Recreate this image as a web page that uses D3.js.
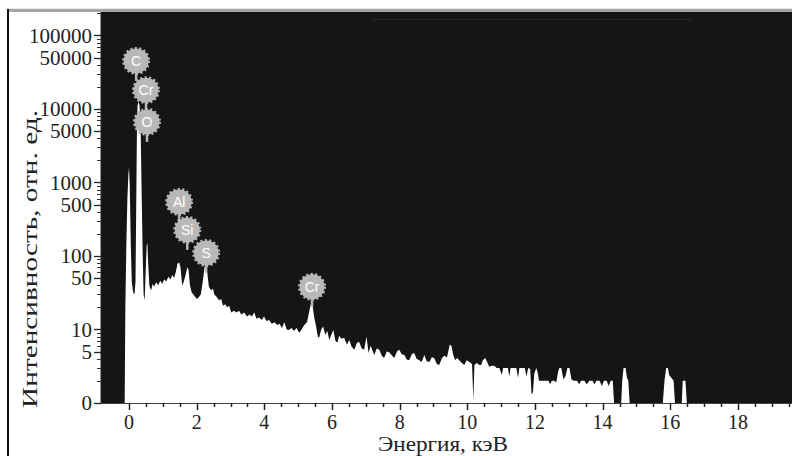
<!DOCTYPE html>
<html><head><meta charset="utf-8">
<script src="https://cdn.jsdelivr.net/npm/d3@7/dist/d3.min.js"></script>
<style>body{margin:0;background:#fff}svg{display:block}</style>
</head><body>
<svg id="c" width="792" height="456"></svg>
<script>
// ---- data ----
const energy = [-0.83,-0.13,-0.11,-0.08,-0.05,-0.02,0.00,0.02,0.05,0.08,0.12,0.16,0.19,0.21,0.23,0.25,0.28,0.31,0.34,0.37,0.40,0.43,0.46,0.49,0.52,0.54,0.57,0.60,0.65,0.70,0.74,0.80,0.86,0.92,0.98,1.04,1.10,1.16,1.22,1.28,1.33,1.38,1.43,1.48,1.52,1.57,1.62,1.67,1.72,1.76,1.80,1.85,1.90,1.95,2.00,2.05,2.12,2.18,2.23,2.27,2.31,2.36,2.43,2.48,2.52,2.58,2.66,2.72,2.78,2.84,2.90,2.96,3.02,3.10,3.18,3.25,3.32,3.40,3.49,3.56,3.63,3.70,3.77,3.85,3.92,3.99,4.06,4.14,4.22,4.30,4.38,4.45,4.52,4.59,4.66,4.73,4.80,4.88,4.95,5.03,5.10,5.18,5.26,5.32,5.38,5.42,5.47,5.53,5.58,5.62,5.68,5.74,5.80,5.86,5.92,5.98,6.04,6.10,6.16,6.21,6.28,6.36,6.44,6.51,6.58,6.66,6.73,6.80,6.88,6.95,7.02,7.08,7.14,7.25,7.32,7.40,7.47,7.54,7.62,7.69,7.76,7.84,7.92,7.99,8.06,8.14,8.21,8.28,8.36,8.43,8.50,8.58,8.65,8.73,8.80,8.88,8.95,9.02,9.10,9.17,9.25,9.32,9.40,9.48,9.53,9.58,9.64,9.70,9.76,9.84,9.91,9.98,10.06,10.14,10.18,10.21,10.28,10.36,10.41,10.46,10.53,10.60,10.65,10.72,10.80,10.87,10.95,11.02,11.06,11.20,11.24,11.28,11.45,11.50,11.54,11.70,11.75,11.80,11.86,11.90,11.94,11.98,12.04,12.08,12.12,12.20,12.30,12.40,12.45,12.50,12.57,12.63,12.68,12.72,12.78,12.84,12.90,12.96,13.02,13.08,13.14,13.24,13.31,13.36,13.46,13.53,13.61,13.70,13.76,13.82,13.91,13.98,14.04,14.12,14.18,14.24,14.30,14.34,14.55,14.58,14.62,14.68,14.72,14.76,14.80,15.78,15.83,15.88,15.93,15.97,16.03,16.10,16.14,16.34,16.37,16.45,16.49,19.6];
const counts = [1,1,20,150,600,1300,1600,900,150,45,32,30,45,400,4000,11000,12500,11000,6000,800,120,30,25,60,140,150,70,40,34,42,38,44,40,46,42,48,45,52,48,55,50,60,78,82,70,40,45,55,70,65,40,32,30,28,26,27,30,45,70,76,60,38,34,36,30,28,25,26,21,22,20,21,17,18,17,18,16,17,15,16,15,17,14,14.5,13.5,15,13,13.5,12,12.5,11.5,12,10.5,12.5,10,9.8,10.5,9.5,10.5,9,10,11.5,12.5,17,23,22,15,11,8,7.7,10,11,8.5,9.5,7.2,8.5,9.8,7,6.6,8.2,7.5,7.7,6.2,7.2,5.8,5.3,6.5,6.8,5.5,5.3,8,4.8,6,4.5,5.5,5.3,4.4,4.1,5,4.9,4.5,4.1,5,5.3,4.6,4.5,3.9,3.8,4.6,4.8,4,3.8,3.6,4.5,3.7,3.6,4.2,4.1,3.4,3.3,4.1,4.4,4.2,6.2,6,4.6,3.8,4.1,3.8,3.5,3.3,3.8,3.6,3.4,1.1,3.3,3.5,3.3,3.3,3.8,4.1,3.5,3.1,3.2,3.2,3.0,3.0,2.4,3.0,3.0,2.3,3.0,3.0,2.2,3.0,3.0,2.3,3.0,2.9,1.3,1.4,2.5,3.0,2.6,2.0,2.0,2.0,2.0,1.8,2.0,2.0,1.9,2.6,3.0,3.0,2.1,2.3,3.0,3.0,2.1,2.0,2.0,1.8,2.0,2.0,1.8,2.0,2.0,1.8,2.0,2.0,1.7,2.0,2.0,1.7,2.0,2.0,1.0,1.0,2.0,3.0,3.0,2.2,2.0,1.0,1.0,2.0,3.0,3.0,2.4,2.2,2.0,1.0,1.0,2.0,2.0,1.0,1];

const yTickValues = [1,5,10,50,100,500,1000,5000,10000,50000,100000];
const yTickLabels = ["0","5","10","50","100","500","1000","5000","10000","50000","100000"];
const xTickValues = [0,2,4,6,8,10,12,14,16,18];

const peakNames  = ["C","Cr","O","Al","Si","S","Cr"];
const peakEnergy = [0.21,0.50,0.53,1.48,1.72,2.28,5.41];
const peakLevel  = [45000,18000,6650,543,226,110,38];

const xTitle = "Энергия, кэВ";
const yTitle = "Интенсивность, отн. ед.";

// ---- layout ----
const svg = d3.select("#c");
const L = 101, R = 792, T = 12, B = 403;
const x = d3.scaleLinear().domain([-0.83, 19.6]).range([L, R]);
const y = d3.scaleLog().domain([1, 208000]).range([B, T]).clamp(true);
const SERIF = '"Liberation Serif", Tinos, Times, "Times New Roman", "DejaVu Serif", serif';
const SANS = '"Liberation Sans", Arial, sans-serif';

// frame
svg.append("line").attr("x1",7).attr("x2",792).attr("y1",9.5).attr("y2",9.5).attr("stroke","#a8a8a8").attr("stroke-width",1.5);
svg.append("line").attr("x1",7).attr("x2",792).attr("y1",11).attr("y2",11).attr("stroke","#555").attr("stroke-width",1);
svg.append("line").attr("x1",8).attr("x2",8).attr("y1",9).attr("y2",456).attr("stroke","#111").attr("stroke-width",2);

// plot background
svg.append("rect").attr("x",L).attr("y",T).attr("width",R-L).attr("height",B-T).attr("fill","#151515");
svg.append("line").attr("x1",372).attr("x2",693).attr("y1",19.5).attr("y2",19.5).attr("stroke","#262626").attr("stroke-width",1);

svg.append("clipPath").attr("id","clp").append("rect").attr("x",L).attr("y",T).attr("width",R-L).attr("height",B-T);

const data = energy.map((e,i)=>({e, c: counts[i]}));
const area = d3.area().x(d=>x(d.e)).y0(y(1)).y1(d=>y(d.c)).curve(d3.curveLinear);
svg.append("path").datum(data).attr("d",area).attr("fill","#ffffff").attr("clip-path","url(#clp)");

// y axis
const minor = [];
for (let k=0;k<=5;k++) for (let m=2;m<=9;m++){ const v=m*Math.pow(10,k); if (v<=200000 && !yTickValues.includes(v)) minor.push(v); }
const gy = svg.append("g").attr("transform",`translate(${L},0)`);
gy.append("line").attr("x1",0).attr("x2",0).attr("y1",T).attr("y2",B).attr("stroke","#222");
gy.selectAll(".mn").data(minor).enter().append("line").attr("x1",-4).attr("x2",0).attr("y1",d=>Math.round(y(d))+0.5).attr("y2",d=>Math.round(y(d))+0.5).attr("stroke","#333");
gy.selectAll(".mj").data(yTickValues).enter().append("line").attr("x1",-7).attr("x2",0).attr("y1",d=>Math.round(y(d))+0.5).attr("y2",d=>Math.round(y(d))+0.5).attr("stroke","#222").attr("stroke-width",1.3);
gy.selectAll(".lb").data(yTickValues).enter().append("text").style("font-family",SERIF).attr("x",-9).attr("y",d=>y(d)).attr("dy","0.34em")
  .attr("text-anchor","end").style("font-size","21px").attr("fill","#222")
  .text((d,i)=>yTickLabels[i]);

// x axis
const gx = svg.append("g").attr("transform",`translate(0,${B})`);
gx.append("line").attr("x1",L).attr("x2",R).attr("y1",0.5).attr("y2",0.5).attr("stroke","#444").attr("stroke-width",1.2);
const xMinor = d3.range(0,19.51,0.5).filter(v=>!xTickValues.includes(v));
gx.selectAll(".mn").data(xMinor).enter().append("line").attr("x1",d=>Math.round(x(d))+0.5).attr("x2",d=>Math.round(x(d))+0.5).attr("y1",0).attr("y2",4).attr("stroke","#222").attr("stroke-width",1.5);
gx.selectAll(".mj").data(xTickValues).enter().append("line").attr("x1",d=>Math.round(x(d))+0.5).attr("x2",d=>Math.round(x(d))+0.5).attr("y1",0).attr("y2",7).attr("stroke","#222").attr("stroke-width",1.5);
gx.selectAll(".lb").data(xTickValues).enter().append("text").style("font-family",SERIF).attr("x",d=>x(d)).attr("y",26)
  .attr("text-anchor","middle").style("font-size","20px").attr("fill","#222").text(d=>d);

// titles
svg.append("text").style("font-family",SERIF).attr("x",443).attr("y",451).attr("text-anchor","middle")
  .style("font-size","20px").attr("textLength",130).attr("lengthAdjust","spacingAndGlyphs").attr("fill","#222").text(xTitle);
svg.append("text").style("font-family",SERIF).attr("transform","translate(37,259) rotate(-90)").attr("text-anchor","middle")
  .style("font-size","21px").attr("textLength",298).attr("lengthAdjust","spacingAndGlyphs").attr("fill","#222").text(yTitle);

// peak badges
const badgeFill = "#b8b8b8";
const gb = svg.append("g");
peakNames.forEach((n,i)=>{
  const g = gb.append("g").attr("transform",`translate(${x(peakEnergy[i])},${y(peakLevel[i])})`);
  g.append("line").attr("x1",0).attr("x2",0).attr("y1",10).attr("y2",20).attr("stroke",badgeFill).attr("stroke-width",2.5);
  g.append("circle").attr("r",12.5).attr("fill",badgeFill).attr("stroke",badgeFill).attr("stroke-width",3).attr("stroke-dasharray","2,2.4");
  g.append("text").style("font-family",SANS).attr("text-anchor","middle").attr("dy","0.36em")
    .style("font-size","14px").attr("fill","#ffffff").text(n);
});
</script>
</body></html>
